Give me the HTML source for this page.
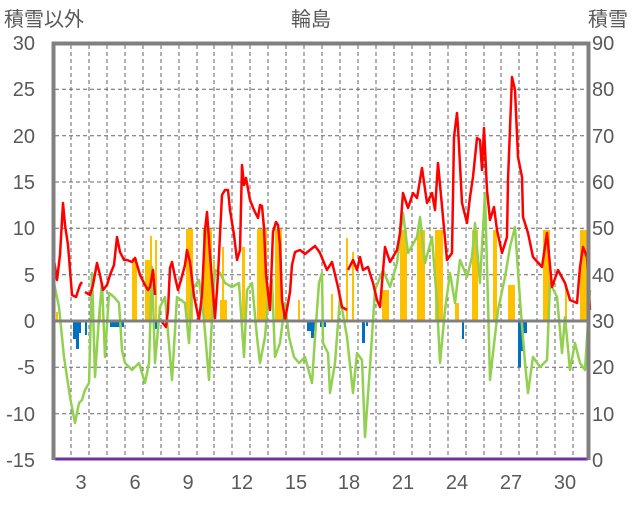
<!DOCTYPE html>
<html><head><meta charset="utf-8"><style>
body{margin:0;background:#fff;width:636px;height:501px;overflow:hidden}
svg text{font-family:"Liberation Sans","Noto Sans CJK JP",sans-serif;fill:#595959}
</style></head><body>
<svg width="636" height="501" viewBox="0 0 636 501" xmlns="http://www.w3.org/2000/svg">
<g stroke="#666" stroke-width="1" stroke-dasharray="4,3" fill="none">
<line x1="55" y1="89.3" x2="588" y2="89.3"/><line x1="55" y1="135.7" x2="588" y2="135.7"/>
<line x1="55" y1="182" x2="588" y2="182"/><line x1="55" y1="228.3" x2="588" y2="228.3"/>
<line x1="55" y1="274.7" x2="588" y2="274.7"/><line x1="55" y1="367.3" x2="588" y2="367.3"/>
<line x1="55" y1="413.7" x2="588" y2="413.7"/>
<line x1="71" y1="45" x2="71" y2="458"/><line x1="89" y1="45" x2="89" y2="458"/><line x1="107" y1="45" x2="107" y2="458"/><line x1="125" y1="45" x2="125" y2="458"/><line x1="143" y1="45" x2="143" y2="458"/><line x1="161" y1="45" x2="161" y2="458"/><line x1="179" y1="45" x2="179" y2="458"/><line x1="197" y1="45" x2="197" y2="458"/><line x1="214" y1="45" x2="214" y2="458"/><line x1="232" y1="45" x2="232" y2="458"/><line x1="250" y1="45" x2="250" y2="458"/><line x1="268" y1="45" x2="268" y2="458"/><line x1="286" y1="45" x2="286" y2="458"/><line x1="304" y1="45" x2="304" y2="458"/><line x1="322" y1="45" x2="322" y2="458"/><line x1="340" y1="45" x2="340" y2="458"/><line x1="358" y1="45" x2="358" y2="458"/><line x1="376" y1="45" x2="376" y2="458"/><line x1="394" y1="45" x2="394" y2="458"/><line x1="412" y1="45" x2="412" y2="458"/><line x1="430" y1="45" x2="430" y2="458"/><line x1="448" y1="45" x2="448" y2="458"/><line x1="466" y1="45" x2="466" y2="458"/><line x1="484" y1="45" x2="484" y2="458"/><line x1="501" y1="45" x2="501" y2="458"/><line x1="519" y1="45" x2="519" y2="458"/><line x1="537" y1="45" x2="537" y2="458"/><line x1="555" y1="45" x2="555" y2="458"/><line x1="573" y1="45" x2="573" y2="458"/>
</g>
<g fill="#FFC000">
<rect x="56" y="312" width="2" height="9"/><rect x="99" y="303" width="2" height="18"/>
<rect x="132" y="258" width="5" height="63"/><rect x="145" y="260" width="5" height="61"/><rect x="150" y="236" width="2" height="85"/><rect x="155" y="240" width="2" height="81"/>
<rect x="186" y="229" width="7" height="92"/><rect x="203" y="229" width="9" height="92"/><rect x="213" y="260" width="2" height="61"/>
<rect x="220" y="300" width="7" height="21"/><rect x="222" y="247" width="2" height="74"/><rect x="242" y="247" width="3" height="74"/>
<rect x="257" y="229" width="10" height="92"/><rect x="275" y="229" width="7" height="92"/><rect x="298" y="300" width="2" height="21"/>
<rect x="331" y="294" width="2" height="27"/><rect x="346" y="238" width="2" height="83"/><rect x="352" y="252" width="2" height="69"/>
<rect x="382" y="290" width="7" height="31"/><rect x="400" y="230" width="7" height="91"/><rect x="417" y="230" width="8" height="91"/>
<rect x="435" y="230" width="8" height="91"/><rect x="455" y="303" width="4" height="18"/><rect x="472" y="230" width="6" height="91"/>
<rect x="493" y="230" width="4" height="91"/><rect x="508" y="285" width="7" height="36"/><rect x="543" y="230" width="7" height="91"/>
<rect x="565" y="285" width="2" height="36"/><rect x="580" y="230" width="7" height="91"/>
</g>
<g fill="#0070C0">
<rect x="73" y="321" width="4" height="18"/><rect x="76" y="321" width="3" height="28"/><rect x="79" y="321" width="2" height="12"/>
<rect x="85" y="321" width="2" height="14"/><rect x="110" y="321" width="14" height="6"/><rect x="155" y="321" width="2" height="8"/>
<rect x="307" y="321" width="8" height="10"/><rect x="311" y="321" width="3" height="17"/><rect x="320" y="321" width="6" height="6"/>
<rect x="362" y="321" width="3" height="22"/><rect x="366" y="321" width="2" height="5"/><rect x="462" y="321" width="2" height="18"/>
<rect x="518" y="321" width="3" height="46"/><rect x="521" y="321" width="3" height="30"/><rect x="524" y="321" width="3" height="12"/>
</g>
<g fill="none" stroke-linejoin="round" stroke-width="2.5">
<polyline stroke="#92D050" points="54,283 59,307 64,357 67,377 70,397 75,423 79,403 82,400 85,390 89,383 92,273 95,377 99,317 102,283 105,357 109,293 114,297 119,303 122,350 125,363 132,370 139,363 145,383 149,363 152,267 155,363 160,307 165,297 172,380 177,297 185,303 189,343 192,290 199,280 204,320 209,380 212,317 215,270 220,273 225,283 232,287 239,283 244,357 247,290 252,283 257,337 260,363 265,337 269,290 272,280 275,357 280,343 285,303 289,337 294,357 299,363 305,357 312,383 315,337 319,283 322,273 323,343 328,353 330,393 335,363 340,297 347,337 353,393 357,353 362,360 365,437 370,367 375,290 383,270 390,287 397,263 403,213 408,253 417,237 420,217 425,263 432,237 437,303 440,363 445,310 450,273 455,303 460,260 467,277 472,257 475,223 480,283 485,193 488,303 490,380 493,353 498,310 505,277 510,247 515,227 520,300 525,363 528,393 533,357 540,367 547,360 550,283 557,297 562,353 565,317 570,370 575,343 580,363 585,370 590,290"/>
<polyline stroke="#FF0000" points="54,260 57,280 60,255 63,203 65,225 68,245 70,270 72,295 76,297 80,285 82,282"/>
<polyline stroke="#FF0000" points="85,292 90,295 93,285 97,263 100,275 103,290 107,285 110,275 114,265 117,237 120,252 124,260 127,260 132,262 135,258 138,268 140,275 145,285 148,290 150,287 153,270 155,295"/>
<polyline stroke="#FF0000" points="162,322 166,327 168,310 170,268 172,262 175,277 178,290 181,280 185,265 187,250 190,262 194,296 199,320 202,295 205,230 207,212 210,255 215,318 218,275 222,195 225,190 228,190 230,210 234,235 237,260 240,250 242,165 244,185 246,178 250,200 254,210 258,218 260,205 262,206 264,228 266,275 270,310 273,232 276,222 278,225 280,245 282,300 285,320 290,292 292,265 295,252 300,250 305,254 310,250 315,246 318,250 320,253 327,270 332,262 338,287 342,307 347,310"/>
<polyline stroke="#FF0000" points="348,270 353,260 357,270 360,257 363,270 368,267 373,283 377,300 380,307 385,247 390,262 397,250 400,233 403,193 408,208 413,193 417,198 422,168 427,203 432,193 435,210 438,163 443,217 447,260 452,253 454,137 457,113 458,127 462,203 467,223 470,197 473,177 477,138 480,140 482,170 484,128 487,190 490,220 494,207 497,230 502,253 507,237 508,180 512,77 515,90 518,157 522,177 523,217 528,233 533,257 542,267 547,233 552,287 558,270 565,283 570,300 577,303 580,267 583,247 587,257 590,310"/>
</g>
<line x1="55" y1="321" x2="588" y2="321" stroke="#808080" stroke-width="3"/>
<line x1="55" y1="459" x2="588" y2="459" stroke="#7030A0" stroke-width="3"/>
<path d="M53.5,460 V43.5 H588.5 V460" fill="none" stroke="#808080" stroke-width="4"/>
<g font-size="20" text-anchor="end">
<text x="35" y="50">30</text><text x="35" y="96">25</text><text x="35" y="143">20</text><text x="35" y="189">15</text><text x="35" y="235">10</text><text x="35" y="282">5</text><text x="35" y="328">0</text><text x="35" y="374">-5</text><text x="35" y="421">-10</text><text x="35" y="467">-15</text>
</g>
<g font-size="20" text-anchor="start">
<text x="592" y="50">90</text><text x="592" y="96">80</text><text x="592" y="143">70</text><text x="592" y="189">60</text><text x="592" y="235">50</text><text x="592" y="282">40</text><text x="592" y="328">30</text><text x="592" y="374">20</text><text x="592" y="421">10</text><text x="592" y="467">0</text>
</g>
<g font-size="20" text-anchor="middle">
<text x="81" y="489">3</text><text x="135" y="489">6</text><text x="188" y="489">9</text><text x="242" y="489">12</text><text x="296" y="489">15</text><text x="349" y="489">18</text><text x="403" y="489">21</text><text x="457" y="489">24</text><text x="511" y="489">27</text><text x="565" y="489">30</text>
</g>
<text x="4" y="26" font-size="20">積雪以外</text>
<text x="311" y="26" font-size="20" text-anchor="middle">輪島</text>
<text x="588" y="26" font-size="20">積雪</text>
</svg>
</body></html>
